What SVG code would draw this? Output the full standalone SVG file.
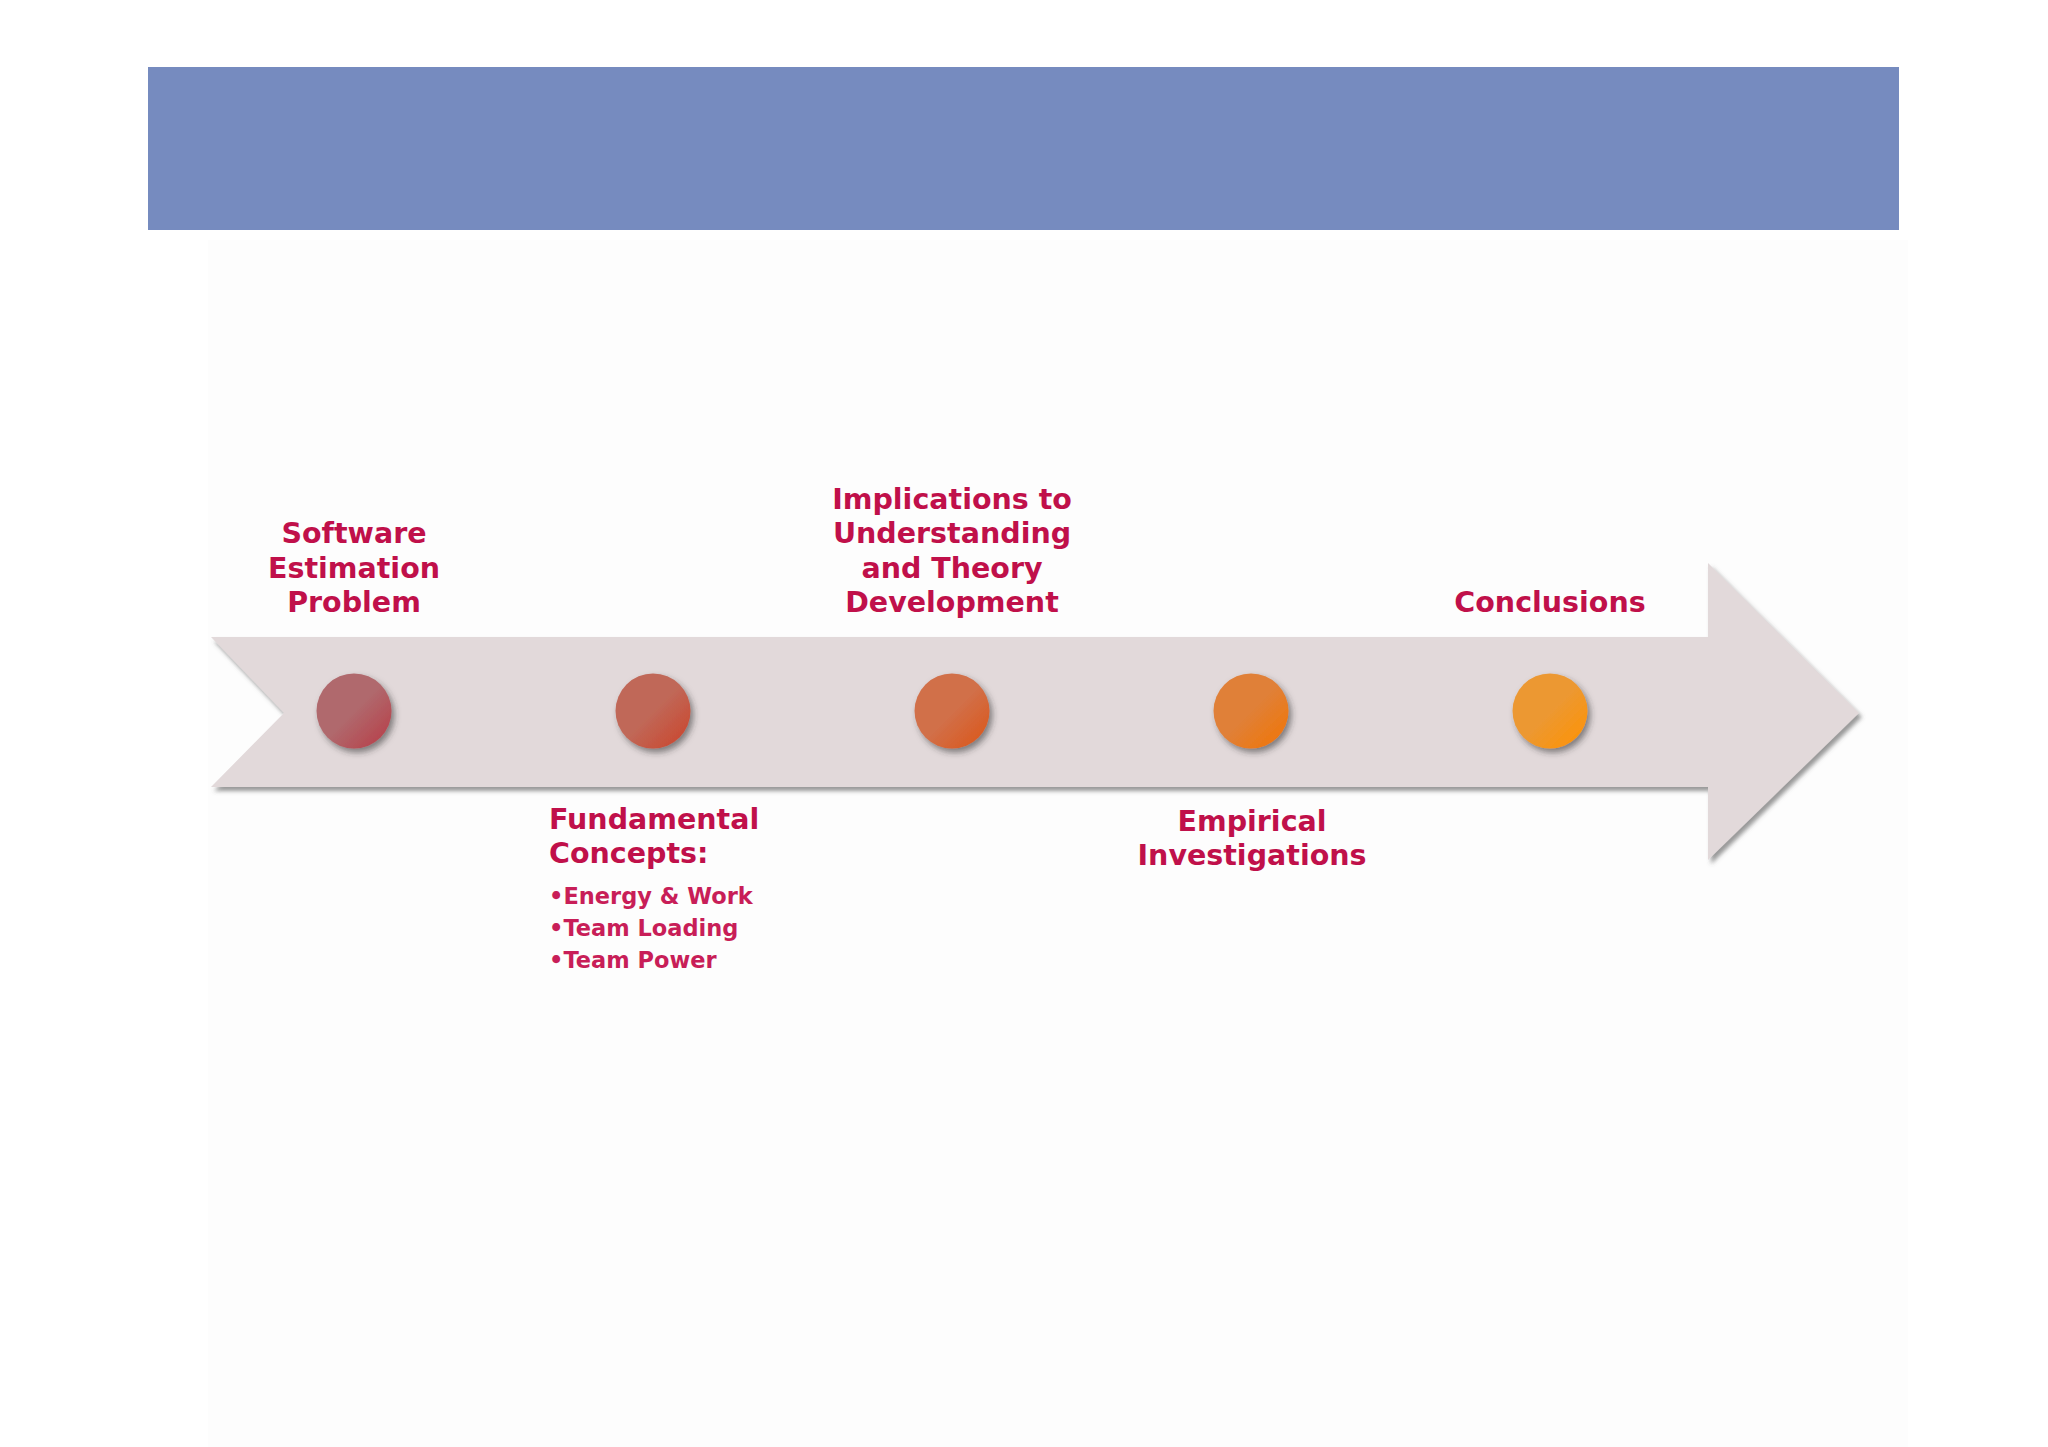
<svg xmlns="http://www.w3.org/2000/svg" width="2048" height="1447" viewBox="0 0 2048 1447">
<style>
.t{font-family:"DejaVu Sans","Liberation Sans",sans-serif;font-weight:bold;font-size:28.5px;fill:#C0104A}
.c{text-anchor:middle}
.b{font-size:22.5px;fill:#C81E58}
</style>
<defs>
<filter id="sh" x="-5%" y="-10%" width="110%" height="130%">
<feDropShadow dx="3" dy="4" stdDeviation="2" flood-color="#555" flood-opacity="0.6"/>
</filter>
<filter id="csh" x="-30%" y="-30%" width="170%" height="170%">
<feDropShadow dx="3" dy="4" stdDeviation="3" flood-color="#333" flood-opacity="0.55"/>
</filter>
<linearGradient id="g1" x1="0" y1="0" x2="1" y2="1"><stop offset="0.5" stop-color="#B0696D"/><stop offset="1" stop-color="#B83A44"/></linearGradient>
<linearGradient id="g2" x1="0" y1="0" x2="1" y2="1"><stop offset="0.5" stop-color="#C06858"/><stop offset="1" stop-color="#CC4228"/></linearGradient>
<linearGradient id="g3" x1="0" y1="0" x2="1" y2="1"><stop offset="0.5" stop-color="#D1704A"/><stop offset="1" stop-color="#DC5414"/></linearGradient>
<linearGradient id="g4" x1="0" y1="0" x2="1" y2="1"><stop offset="0.5" stop-color="#E08038"/><stop offset="1" stop-color="#F27400"/></linearGradient>
<linearGradient id="g5" x1="0" y1="0" x2="1" y2="1"><stop offset="0.5" stop-color="#EC9832"/><stop offset="1" stop-color="#FF9200"/></linearGradient>
</defs>
<rect width="2048" height="1447" fill="#FFFFFF"/>
<rect x="208" y="240" width="1700" height="1207" fill="#FDFDFD"/>
<g id="header"><rect x="148" y="67" width="1751" height="163" fill="#768BBF"/></g>
<g id="connectors">
<path d="M211,637 L1708,637 L1708,563 L1859,713 L1708,860 L1708,787 L211,787 L284,713 Z" fill="#E2D9DA" filter="url(#sh)"/>
</g>
<g id="node1">
<circle cx="354" cy="711" r="37.5" fill="url(#g1)" filter="url(#csh)"/>
<text class="t c"><tspan x="354" y="543">Software</tspan><tspan x="354" y="578">Estimation</tspan><tspan x="354" y="612">Problem</tspan></text>
</g>
<g id="node2">
<circle cx="653" cy="711" r="37.5" fill="url(#g2)" filter="url(#csh)"/>
<text class="t"><tspan x="549" y="829">Fundamental</tspan><tspan x="549" y="863">Concepts:</tspan></text>
<text class="t b"><tspan x="549" y="904">•Energy &amp; Work</tspan><tspan x="549" y="936">•Team Loading</tspan><tspan x="549" y="968">•Team Power</tspan></text>
</g>
<g id="node3">
<circle cx="952" cy="711" r="37.5" fill="url(#g3)" filter="url(#csh)"/>
<text class="t c"><tspan x="952" y="509">Implications to</tspan><tspan x="952" y="543">Understanding</tspan><tspan x="952" y="578">and Theory</tspan><tspan x="952" y="612">Development</tspan></text>
</g>
<g id="node4">
<circle cx="1251" cy="711" r="37.5" fill="url(#g4)" filter="url(#csh)"/>
<text class="t c"><tspan x="1252" y="831">Empirical</tspan><tspan x="1252" y="865">Investigations</tspan></text>
</g>
<g id="node5">
<circle cx="1550" cy="711" r="37.5" fill="url(#g5)" filter="url(#csh)"/>
<text class="t c" x="1550" y="612">Conclusions</text>
</g>
</svg>
